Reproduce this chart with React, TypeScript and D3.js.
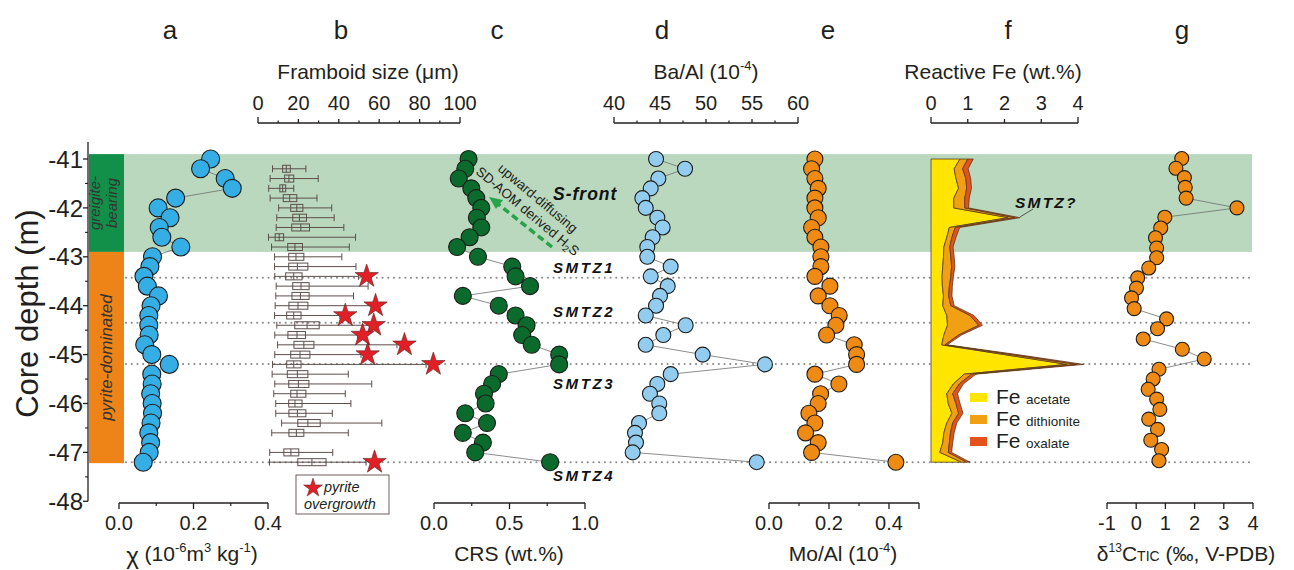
import React from "react";
import * as d3 from "d3";

// ---------------- DATA ----------------
const depths = [-41.0, -41.2, -41.4, -41.6, -41.8, -42.0, -42.2, -42.4, -42.6, -42.8, -43.0, -43.2, -43.4, -43.6, -43.8, -44.0, -44.2, -44.4, -44.6, -44.8, -45.0, -45.2, -45.4, -45.6, -45.8, -46.0, -46.2, -46.4, -46.6, -46.8, -47.0, -47.2];

const chi = [0.246, 0.219, 0.285, 0.304, 0.152, 0.105, 0.137, 0.108, 0.115, 0.166, 0.09, 0.083, 0.067, 0.076, 0.106, 0.086, 0.08, 0.08, 0.081, 0.069, 0.088, 0.135, 0.088, 0.089, 0.085, 0.089, 0.09, 0.086, 0.08, 0.085, 0.081, 0.065];

const crs = [0.229, 0.207, 0.164, 0.247, 0.28, 0.313, 0.284, 0.313, 0.236, 0.153, 0.291, 0.518, 0.54, 0.636, 0.191, 0.429, 0.54, 0.613, 0.584, 0.647, 0.829, 0.829, 0.429, 0.385, 0.331, 0.342, 0.207, 0.351, 0.191, 0.324, 0.273, 0.769];

const baAl = [44.57, 47.72, 44.82, 43.99, 43.08, 43.45, 44.71, 45.29, 44.2, 43.62, 43.62, 46.16, 43.99, 45.84, 45.0, 44.57, 43.45, 47.79, 45.36, 43.45, 49.64, 56.41, 46.16, 44.71, 43.91, 44.92, 44.92, 42.72, 42.28, 42.39, 42.03, 55.51];

const moAl = [0.153, 0.142, 0.153, 0.164, 0.153, 0.153, 0.164, 0.142, 0.153, 0.173, 0.173, 0.173, 0.153, 0.203, 0.164, 0.203, 0.234, 0.223, 0.192, 0.284, 0.292, 0.292, 0.153, 0.233, 0.172, 0.164, 0.133, 0.153, 0.122, 0.164, 0.142, 0.423];

const feAcetate = [0.79, 0.63, 0.68, 0.75, 0.62, 0.62, 2.1, 0.5, 0.43, 0.35, 0.34, 0.32, 0.3, 0.31, 0.34, 0.32, 0.43, 0.45, 0.35, 0.29, 2.0, 3.7, 0.9, 0.61, 0.43, 0.47, 0.57, 0.43, 0.35, 0.32, 0.24, 0.83];
const feDithionite = [0.21, 0.23, 0.27, 0.22, 0.3, 0.3, 0.18, 0.16, 0.14, 0.16, 0.2, 0.24, 0.24, 0.19, 0.14, 0.22, 0.63, 0.85, 0.4, 0.09, 0.2, 0.27, 0.2, 0.16, 0.16, 0.21, 0.18, 0.16, 0.18, 0.18, 0.23, 0.14];
const feOxalate = [0.15, 0.15, 0.13, 0.13, 0.12, 0.1, 0.14, 0.12, 0.11, 0.09, 0.09, 0.09, 0.07, 0.08, 0.09, 0.09, 0.11, 0.1, 0.08, 0.06, 0.15, 0.18, 0.12, 0.11, 0.13, 0.11, 0.12, 0.11, 0.1, 0.09, 0.09, 0.09];

const d13cDepths = [-40.99, -41.19, -41.38, -41.58, -41.8, -42.0, -42.19, -42.41, -42.61, -42.82, -43.02, -43.23, -43.43, -43.64, -43.84, -44.06, -44.27, -44.47, -44.68, -44.89, -45.09, -45.3, -45.5, -45.71, -45.91, -46.12, -46.32, -46.53, -46.75, -46.94, -47.17];
const d13c = [1.56, 1.36, 1.65, 1.68, 1.71, 3.45, 0.98, 0.84, 0.66, 0.7, 0.7, 0.43, 0.05, 0.01, -0.16, -0.07, 1.04, 0.73, 0.24, 1.58, 2.33, 0.78, 0.58, 0.41, 0.7, 0.81, 0.43, 0.73, 0.5, 0.87, 0.78];

const boxDepths = [-41.2, -41.4, -41.6, -41.8, -42.0, -42.2, -42.4, -42.6, -42.8, -43.0, -43.2, -43.4, -43.6, -43.8, -44.0, -44.2, -44.4, -44.6, -44.8, -45.0, -45.2, -45.4, -45.6, -45.8, -46.0, -46.2, -46.4, -46.6, -47.0, -47.2];
const boxLow = [7.2, 6.0, 5.3, 6.0, 10.2, 9.3, 9.0, 5.2, 6.7, 8.2, 8.2, 8.3, 9.0, 8.8, 8.5, 8.2, 9.3, 8.3, 9.7, 8.3, 7.2, 7.0, 8.3, 7.8, 8.8, 8.8, 11.7, 6.8, 5.8, 5.7];
const boxQ1 = [12.2, 13.2, 10.8, 12.5, 16.2, 17.2, 16.7, 8.5, 14.7, 15.2, 15.2, 13.7, 17.2, 16.8, 15.3, 14.2, 18.2, 14.8, 17.8, 16.2, 14.2, 14.5, 15.2, 16.2, 15.2, 15.3, 19.7, 15.3, 12.8, 19.7];
const boxMed = [14.0, 15.3, 12.2, 15.7, 19.2, 20.5, 21.2, 10.5, 18.3, 18.8, 19.5, 17.7, 21.3, 21.0, 19.8, 17.7, 24.3, 19.3, 22.7, 20.8, 17.7, 19.5, 20.0, 19.3, 18.3, 19.5, 24.7, 19.0, 16.3, 26.7];
const boxQ3 = [16.0, 17.7, 13.7, 19.2, 22.2, 24.0, 25.5, 12.7, 22.0, 22.7, 24.7, 21.8, 25.3, 25.3, 24.7, 21.3, 30.3, 23.5, 27.7, 25.7, 21.3, 24.7, 25.2, 23.7, 21.8, 23.7, 30.8, 22.7, 20.2, 33.7];
const boxHigh = [23.7, 29.8, 17.7, 29.2, 36.5, 37.7, 42.5, 48.3, 45.2, 41.5, 48.5, 49.7, 54.5, 47.3, 56.0, 40.5, 56.0, 49.3, 68.8, 51.0, 83.2, 44.7, 56.3, 43.2, 46.0, 36.8, 61.3, 44.7, 37.0, 53.5];

const starDepths = [-43.4, -44.0, -44.2, -44.4, -44.6, -44.8, -45.0, -45.2, -47.2];
const starSizes = [53.8, 58.2, 43.2, 57.3, 51.8, 72.5, 54.3, 86.8, 57.7];

const smtzLineDepths = [-43.43, -44.35, -45.19, -47.2];
const smtzLabels = ["SMTZ1", "SMTZ2", "SMTZ3", "SMTZ4"];
const smtzLabelDepths = [-43.23, -44.13, -45.6, -47.49];

const depthTicks = [-41, -42, -43, -44, -45, -46, -47, -48];
const panelLetters = ["a", "b", "c", "d", "e", "f", "g"];

// ---------------- LAYOUT ----------------
const FONT = '"Liberation Sans", Arial, Helvetica, sans-serif';
const INK = "#231f20";
const y = d3.scaleLinear().domain([-41, -48]).range([159, 501.3]);
const xa = d3.scaleLinear().domain([0, 0.4]).range([119, 268]);
const xb = d3.scaleLinear().domain([0, 100]).range([258, 460]);
const xc = d3.scaleLinear().domain([0, 1]).range([434, 585]);
const xd = d3.scaleLinear().domain([40, 60]).range([614, 798]);
const xe = d3.scaleLinear().domain([0, 0.5]).range([769, 919]);
const xf = d3.scaleLinear().domain([0, 4]).range([931, 1078]);
const xg = d3.scaleLinear().domain([-1, 4]).range([1107, 1253]);

const TOP_Y = 123;
const BOT_Y = 503;

function TopAxis({ scale, major, minor, fmt }: any) {
  const [r0, r1] = scale.range();
  const [d0, d1] = scale.domain();
  return (
    <g>
      <line x1={r0} x2={r1} y1={TOP_Y} y2={TOP_Y} stroke={INK} strokeWidth={1.3} />
      {major.map((t: number) => (
        <line key={"M" + t} x1={scale(t)} x2={scale(t)} y1={TOP_Y} y2={TOP_Y - (t === d0 || t === d1 ? 6 : 4)} stroke={INK} strokeWidth={1.3} />
      ))}
      {minor.map((t: number) => (
        <line key={"m" + t} x1={scale(t)} x2={scale(t)} y1={TOP_Y} y2={TOP_Y - 2.5} stroke={INK} strokeWidth={1.2} />
      ))}
      {major.map((t: number) => (
        <text key={"L" + t} x={scale(t)} y={110} textAnchor="middle" fontSize={20} fill={INK}>{fmt(t)}</text>
      ))}
    </g>
  );
}

function BottomAxis({ scale, major, minor, labels, fmt }: any) {
  const [r0, r1] = scale.range();
  return (
    <g>
      <line x1={r0} x2={r1} y1={BOT_Y} y2={BOT_Y} stroke={INK} strokeWidth={1.3} />
      {major.map((t: number) => (
        <line key={"M" + t} x1={scale(t)} x2={scale(t)} y1={BOT_Y} y2={BOT_Y + 6} stroke={INK} strokeWidth={1.3} />
      ))}
      {minor.map((t: number) => (
        <line key={"m" + t} x1={scale(t)} x2={scale(t)} y1={BOT_Y} y2={BOT_Y + 3} stroke={INK} strokeWidth={1.2} />
      ))}
      {labels.map((t: number) => (
        <text key={"L" + t} x={scale(t)} y={530} textAnchor="middle" fontSize={20} fill={INK}>{fmt(t)}</text>
      ))}
    </g>
  );
}

function Scatter({ xs, vals, deps, fill, r }: any) {
  const idx = d3.range(vals.length);
  const line = d3.line<number>().x((i) => xs(vals[i])).y((i) => y(deps[i]));
  return (
    <g>
      <path d={line(idx) || ""} fill="none" stroke="#6e6e6e" strokeWidth={0.8} />
      {idx.map((i) => (
        <circle key={i} cx={xs(vals[i])} cy={y(deps[i])} r={r} fill={fill} stroke="#1d1d1b" strokeWidth={1.1} />
      ))}
    </g>
  );
}

export default function App() {
  const starPath = d3.symbol().type(d3.symbolStar).size(170)() || "";
  const starSmall = d3.symbol().type(d3.symbolStar).size(110)() || "";

  const feRows = depths.map((d, i) => ({ depth: d, acetate: feAcetate[i], dithionite: feDithionite[i], oxalate: feOxalate[i] }));
  const stack = d3.stack<any>().keys(["acetate", "dithionite", "oxalate"])(feRows);
  const area = d3
    .area<any>()
    .y((p) => y(p.data.depth))
    .x0((p) => xf(p[0]))
    .x1((p) => xf(p[1]));
  const feColors = ["#ffe500", "#f0a012", "#e5531d"];
  const feNames = ["acetate", "dithionite", "oxalate"];

  const bandTop = y(-40.9);
  const bandBot = y(-42.9);
  const barBot = y(-47.22);
  const letterX = [170, 341, 497, 662, 828, 1008, 1182];

  return (
    <svg width={1294} height={570} style={{ position: "absolute", left: 0, top: 0, background: "#fff" }} fontFamily={FONT}>
      {/* green band */}
      <rect x={124} y={bandTop} width={1252 - 124} height={bandBot - bandTop} fill="#b9d8be" />
      {/* dotted SMTZ lines */}
      {smtzLineDepths.map((d) => (
        <line key={d} x1={126} x2={1252} y1={y(d)} y2={y(d)} stroke="#8a8a8a" strokeWidth={2} strokeDasharray="0.1 5.6" strokeLinecap="round" />
      ))}

      {/* panel letters */}
      {panelLetters.map((l, i) => (
        <text key={l} x={letterX[i]} y={39} textAnchor="middle" fontSize={26} fill={INK}>{l}</text>
      ))}

      {/* depth axis */}
      <line x1={88} x2={88} y1={142} y2={y(-48)} stroke={INK} strokeWidth={1.3} />
      {depthTicks.map((t) => (
        <g key={t}>
          <line x1={83} x2={88} y1={y(t)} y2={y(t)} stroke={INK} strokeWidth={1.3} />
          <text x={83} y={y(t)} dy="0.36em" textAnchor="end" fontSize={24} fill={INK}>{t}</text>
        </g>
      ))}
      {depthTicks.slice(0, -1).map((t) => (
        <line key={"h" + t} x1={85} x2={88} y1={y(t - 0.5)} y2={y(t - 0.5)} stroke={INK} strokeWidth={1.1} />
      ))}
      <text transform={`translate(38,${(bandTop + barBot) / 2 + 5}) rotate(-90)`} textAnchor="middle" fontSize={31} fill={INK}>Core depth (m)</text>

      {/* lithology bars */}
      <rect x={89} y={bandTop} width={35} height={bandBot - bandTop} fill="#129049" />
      <rect x={89} y={bandBot} width={35} height={barBot - bandBot} fill="#ee8418" />
      <text transform={`translate(100,${(bandTop + bandBot) / 2}) rotate(-90)`} textAnchor="middle" fontSize={15} fontStyle="italic" fill="#333">greigite-</text>
      <text transform={`translate(117,${(bandTop + bandBot) / 2}) rotate(-90)`} textAnchor="middle" fontSize={15} fontStyle="italic" fill="#333">bearing</text>
      <text transform={`translate(112,${(bandBot + barBot) / 2}) rotate(-90)`} textAnchor="middle" fontSize={17} fontStyle="italic" fill="#333">pyrite-dominated</text>

      {/* ----- panel a ----- */}
      <Scatter xs={xa} vals={chi} deps={depths} fill="#35aee6" r={9} />
      <BottomAxis scale={xa} major={[0, 0.2, 0.4]} minor={[0.1, 0.3]} labels={[0, 0.2, 0.4]} fmt={(t: number) => t.toFixed(1)} />
      <text x={192} y={561} textAnchor="middle" fontSize={21} fill={INK}>
        <tspan fontSize={24} dy={3}>χ</tspan>
        <tspan dy={-3}> (10</tspan>
        <tspan fontSize={13} dy={-9}>-6</tspan>
        <tspan dy={9}>m</tspan>
        <tspan fontSize={13} dy={-9}>3</tspan>
        <tspan dy={9}> kg</tspan>
        <tspan fontSize={13} dy={-9}>-1</tspan>
        <tspan dy={9}>)</tspan>
      </text>

      {/* ----- panel b ----- */}
      <TopAxis scale={xb} major={[0, 20, 40, 60, 80, 100]} minor={[10, 30, 50, 70, 90]} fmt={(t: number) => String(t)} />
      <text x={368} y={79} textAnchor="middle" fontSize={21} fill={INK}>Framboid size (μm)</text>
      {boxDepths.map((d, i) => {
        const cy = y(d);
        const h = 7;
        const col = "#5d4f4c";
        return (
          <g key={d}>
            <line x1={xb(boxLow[i])} x2={xb(boxHigh[i])} y1={cy} y2={cy} stroke={col} strokeWidth={1} />
            <line x1={xb(boxLow[i])} x2={xb(boxLow[i])} y1={cy - h / 2} y2={cy + h / 2} stroke={col} strokeWidth={1} />
            <line x1={xb(boxHigh[i])} x2={xb(boxHigh[i])} y1={cy - h / 2} y2={cy + h / 2} stroke={col} strokeWidth={1} />
            <rect x={xb(boxQ1[i])} y={cy - h / 2} width={xb(boxQ3[i]) - xb(boxQ1[i])} height={h} fill="none" stroke={col} strokeWidth={1} />
            <line x1={xb(boxMed[i])} x2={xb(boxMed[i])} y1={cy - h / 2} y2={cy + h / 2} stroke={col} strokeWidth={1} />
          </g>
        );
      })}
      {starDepths.map((d, i) => (
        <path key={d} d={starPath} transform={`translate(${xb(starSizes[i])},${y(d)})`} fill="#e01f26" stroke="#5a2020" strokeWidth={0.6} />
      ))}
      <rect x={296} y={475} width={93} height={39} fill="#fff" stroke="#6d5f5c" strokeWidth={1} />
      <path d={starSmall} transform="translate(313,488)" fill="#e01f26" stroke="#5a2020" strokeWidth={0.5} />
      <text x={324} y={492} fontSize={14.5} fontStyle="italic" fill={INK}>pyrite</text>
      <text x={304} y={509} fontSize={14.5} fontStyle="italic" fill={INK}>overgrowth</text>

      {/* ----- panel c ----- */}
      <Scatter xs={xc} vals={crs} deps={depths} fill="#0a6b2d" r={8.5} />
      <BottomAxis scale={xc} major={[0, 0.5, 1]} minor={[0.25, 0.75]} labels={[0, 0.5, 1]} fmt={(t: number) => t.toFixed(1)} />
      <text x={509} y={561} textAnchor="middle" fontSize={21} fill={INK}>CRS (wt.%)</text>
      <text x={553} y={200} fontSize={17.5} fontWeight="bold" fontStyle="italic" fill="#111" letterSpacing={1}>S-front</text>
      {smtzLabels.map((s, i) => (
        <text key={s} x={553} y={y(smtzLabelDepths[i]) + 5} fontSize={15} fontWeight="bold" fontStyle="italic" fill="#111" letterSpacing={2.6}>{s}</text>
      ))}
      <text transform="translate(497,170) rotate(40)" fontSize={13.5} fill={INK}>upward-diffusing</text>
      <text transform="translate(475,173) rotate(40)" fontSize={13.5} fill={INK}>
        SD-AOM derived H<tspan fontSize={9.5} dy={3}>2</tspan><tspan dy={-3}>S</tspan>
      </text>
      <line x1={552} y1={247} x2={498} y2={204} stroke="#27a348" strokeWidth={3.5} strokeDasharray="7 4" />
      <path d="M489,197 L503,200 L496,209 Z" fill="#27a348" />

      {/* ----- panel d ----- */}
      <Scatter xs={xd} vals={baAl} deps={depths} fill="#92cdef" r={7.5} />
      <TopAxis scale={xd} major={[40, 45, 50, 55, 60]} minor={[42.5, 47.5, 52.5, 57.5]} fmt={(t: number) => String(t)} />
      <text x={706} y={79} textAnchor="middle" fontSize={21} fill={INK}>
        Ba/Al (10<tspan fontSize={13} dy={-9}>-4</tspan><tspan dy={9}>)</tspan>
      </text>

      {/* ----- panel e ----- */}
      <Scatter xs={xe} vals={moAl} deps={depths} fill="#ef8a15" r={8} />
      <BottomAxis scale={xe} major={[0, 0.2, 0.4, 0.5]} minor={[0.1, 0.3]} labels={[0, 0.2, 0.4]} fmt={(t: number) => t.toFixed(1)} />
      <text x={843} y={561} textAnchor="middle" fontSize={21} fill={INK}>
        Mo/Al (10<tspan fontSize={13} dy={-9}>-4</tspan><tspan dy={9}>)</tspan>
      </text>

      {/* ----- panel f ----- */}
      {stack.map((s, i) => (
        <path key={i} d={area(s as any) || ""} fill={feColors[i]} stroke="#5a3a20" strokeWidth={0.8} />
      ))}
      <TopAxis scale={xf} major={[0, 1, 2, 3, 4]} minor={[]} fmt={(t: number) => String(t)} />
      <text x={993} y={79} textAnchor="middle" fontSize={21} fill={INK}>Reactive Fe (wt.%)</text>
      <text x={1015} y={208} fontSize={15.5} fontWeight="bold" fontStyle="italic" fill="#111" letterSpacing={2.2}>SMTZ?</text>
      <line x1={1020} y1={217} x2={1033} y2={209} stroke="#333" strokeWidth={0.8} />
      {feNames.map((n, i) => (
        <g key={n}>
          <rect x={970} y={393 + i * 22} width={17} height={9} fill={feColors[i]} />
          <text x={996} y={404 + i * 22} fontSize={21} fill={INK}>Fe</text>
          <text x={1026} y={404 + i * 22} fontSize={13.5} fill={INK}>{n}</text>
        </g>
      ))}

      {/* ----- panel g ----- */}
      <Scatter xs={xg} vals={d13c} deps={d13cDepths} fill="#ef8a15" r={7} />
      <BottomAxis scale={xg} major={[-1, 0, 1, 2, 3, 4]} minor={[]} labels={[-1, 0, 1, 2, 3, 4]} fmt={(t: number) => String(t)} />
      <text x={1186} y={561} textAnchor="middle" fontSize={21} fill={INK}>
        δ<tspan fontSize={12} dy={-9}>13</tspan><tspan dy={9}>C</tspan><tspan fontSize={14}>TIC</tspan> (‰, V-PDB)
      </text>
    </svg>
  );
}
